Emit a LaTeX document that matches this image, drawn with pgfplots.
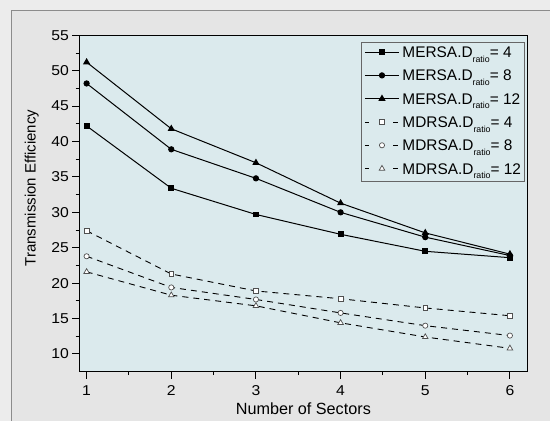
\documentclass[border=0pt]{standalone}
\usepackage{pgfplots}
\pgfplotsset{compat=1.18}
\usepackage{fontspec}
\setmainfont{Liberation Sans}
\newfontfamily\tickfont{Liberation Sans}[FakeStretch=1.1]
\definecolor{outerbg}{RGB}{236,236,236}
\definecolor{innerbg}{RGB}{229,229,229}
\definecolor{axisbg}{RGB}{219,234,237}
\definecolor{framegray}{RGB}{140,140,140}
\definecolor{opengray}{RGB}{80,80,80}
\newcommand{\lbl}[2]{#1.D\raisebox{-4.7bp}{\fontsize{8.8bp}{9bp}\selectfont ratio}= #2}
\begin{document}
\begin{tikzpicture}
\fill[outerbg] (0bp,0bp) rectangle (550bp,421bp);
\useasboundingbox (0bp,0bp) rectangle (550bp,421bp);
\fill[innerbg] (11.7bp,0bp) rectangle (550bp,410.3bp);
\draw[framegray, line width=1bp] (11.7bp,0bp) -- (11.7bp,410.3bp) -- (550bp,410.3bp);
\begin{axis}[
  at={(79bp,49.3bp)}, anchor=south west,
  scale only axis, width=448.7bp, height=336.4bp,
  xmin=0.91, xmax=6.21, ymin=7.5, ymax=55,
  axis background/.style={fill=axisbg},
  axis line style={black, line width=1bp},
  xtick={1,2,3,4,5,6}, ytick={10,15,20,25,30,35,40,45,50,55},
  minor x tick num=1, minor y tick num=1,
  tick align=outside, tick pos=left,
  major tick length=7bp, minor tick length=3.5bp,
  every tick/.style={black, line width=1bp},
  /pgf/number format/assume math mode=true,
  ticklabel style={font=\tickfont\fontsize{14.3bp}{16bp}\selectfont},
  xticklabel style={anchor=north, inner sep=0pt, yshift=-7bp},
  yticklabel style={anchor=east, inner sep=0pt, xshift=-3bp},
  xlabel={Number of Sectors},
  ylabel={Transmission Efficiency},
  xlabel style={font=\fontsize{16.2bp}{18bp}\selectfont, at={(axis description cs:0.5,-0.1115)}, anchor=center},
  ylabel style={font=\fontsize{15bp}{18bp}\selectfont, at={(axis description cs:-0.1054,0.546)}, anchor=center},
  legend style={at={(rel axis cs:0.628,0.981)}, anchor=north west,
    fill=axisbg, draw=gray!80!black, line width=0.8bp,
    font=\fontsize{15.4bp}{16bp}\selectfont,
    inner xsep=3.3bp, inner ysep=3bp, row sep=6.3bp,
    nodes={inner sep=0pt, text height=12.5bp, text depth=4.5bp},
    /tikz/every odd column/.append style={column sep=3bp}},
  legend cell align=left,
  legend image code/.code={\draw[mark repeat=2,mark phase=2,#1] plot coordinates {(0bp,1.5bp) (17bp,1.5bp) (34bp,1.5bp)};},
]
\addplot[black, line width=1bp, mark=square*, mark size=2.4bp] coordinates {(1,42.2) (2,33.4) (3,29.7) (4,26.9) (5,24.5) (6,23.6)};
\addlegendentry{\lbl{MERSA}{4}}
\addplot[black, line width=1bp, mark=*, mark size=2.6bp] coordinates {(1,48.2) (2,38.9) (3,34.8) (4,30.0) (5,26.5) (6,23.9)};
\addlegendentry{\lbl{MERSA}{8}}
\addplot[black, line width=1bp, mark=triangle*, mark size=3.2bp] coordinates {(1,51.2) (2,41.8) (3,37.0) (4,31.3) (5,27.1) (6,24.1)};
\addlegendentry{\lbl{MERSA}{12}}
\addplot[black, line width=0.9bp, dash pattern=on 6bp off 5bp, legend image post style={dash pattern=on 4.5bp off 24bp}, mark=square*, mark size=2.4bp, mark options={solid, draw=opengray, fill=white, line width=0.7bp}] coordinates {(1,27.4) (2,21.3) (3,18.9) (4,17.8) (5,16.5) (6,15.4)};
\addlegendentry{\lbl{MDRSA}{4}}
\addplot[black, line width=0.9bp, dash pattern=on 6bp off 5bp, legend image post style={dash pattern=on 4.5bp off 24bp}, mark=*, mark size=2.6bp, mark options={solid, draw=opengray, fill=white, line width=0.7bp}] coordinates {(1,23.8) (2,19.4) (3,17.7) (4,15.8) (5,14.0) (6,12.6)};
\addlegendentry{\lbl{MDRSA}{8}}
\addplot[black, line width=0.9bp, dash pattern=on 6bp off 5bp, legend image post style={dash pattern=on 4.5bp off 24bp}, mark=triangle*, mark size=3.2bp, mark options={solid, draw=opengray, fill=white, line width=0.7bp}] coordinates {(1,21.6) (2,18.3) (3,16.8) (4,14.4) (5,12.4) (6,10.8)};
\addlegendentry{\lbl{MDRSA}{12}}
\end{axis}
\end{tikzpicture}
\end{document}
